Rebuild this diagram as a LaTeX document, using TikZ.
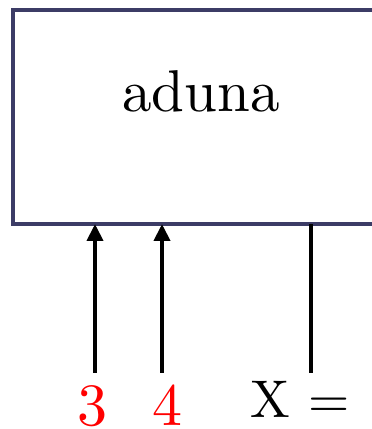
\documentclass[tikz,border=0pt]{standalone}
\usepackage{fontspec}
\usetikzlibrary{arrows.meta}
\newfontfamily\tienpunt{lmroman10-regular}[Extension=.otf]
\definecolor{bloklijn}{RGB}{60,60,102}
\tikzset{
	blok/.style={draw=bloklijn, line width=4.5pt, minimum width=377pt, minimum height=214pt, outer sep=0pt, inner sep=0pt},
	pijl/.style={black, line width=4pt, -{Triangle[length=17pt,width=16pt]}},
	draad/.style={black, line width=4pt},
	invoer/.style={font=\tienpunt\fontsize{60}{70}\selectfont, anchor=base, inner sep=0pt}
}
\begin{document}
	\begin{tikzpicture}[x=1pt, y=1pt]
		\useasboundingbox (0, 0) rectangle (372, 429);
		\clip (0, 0) rectangle (372, 429);
		\node[blok] (blok) at (201.5, 312) {};
		\node[font=\tienpunt\fontsize{59}{70}\selectfont, anchor=base] (naam) at (201, 317) {aduna};
		% ingangen onder het blok
		\node[invoer, text=red] (drie) at (92, 4) {3};
		\node[invoer, text=red] (vier) at (167, 4) {4};
		\node[invoer, font=\tienpunt\fontsize{53}{64}\selectfont] (x) at (300, 12) {X =};
		\coordinate (p3) at (95, 56);
		\coordinate (p4) at (162, 56);
		\coordinate (px) at (311, 56);
		\draw[pijl] (p3) -- (p3 |- blok.south);
		\draw[pijl] (p4) -- (p4 |- blok.south);
		\draw[draad] (px) -- (px |- blok.south);
	\end{tikzpicture}
\end{document}
